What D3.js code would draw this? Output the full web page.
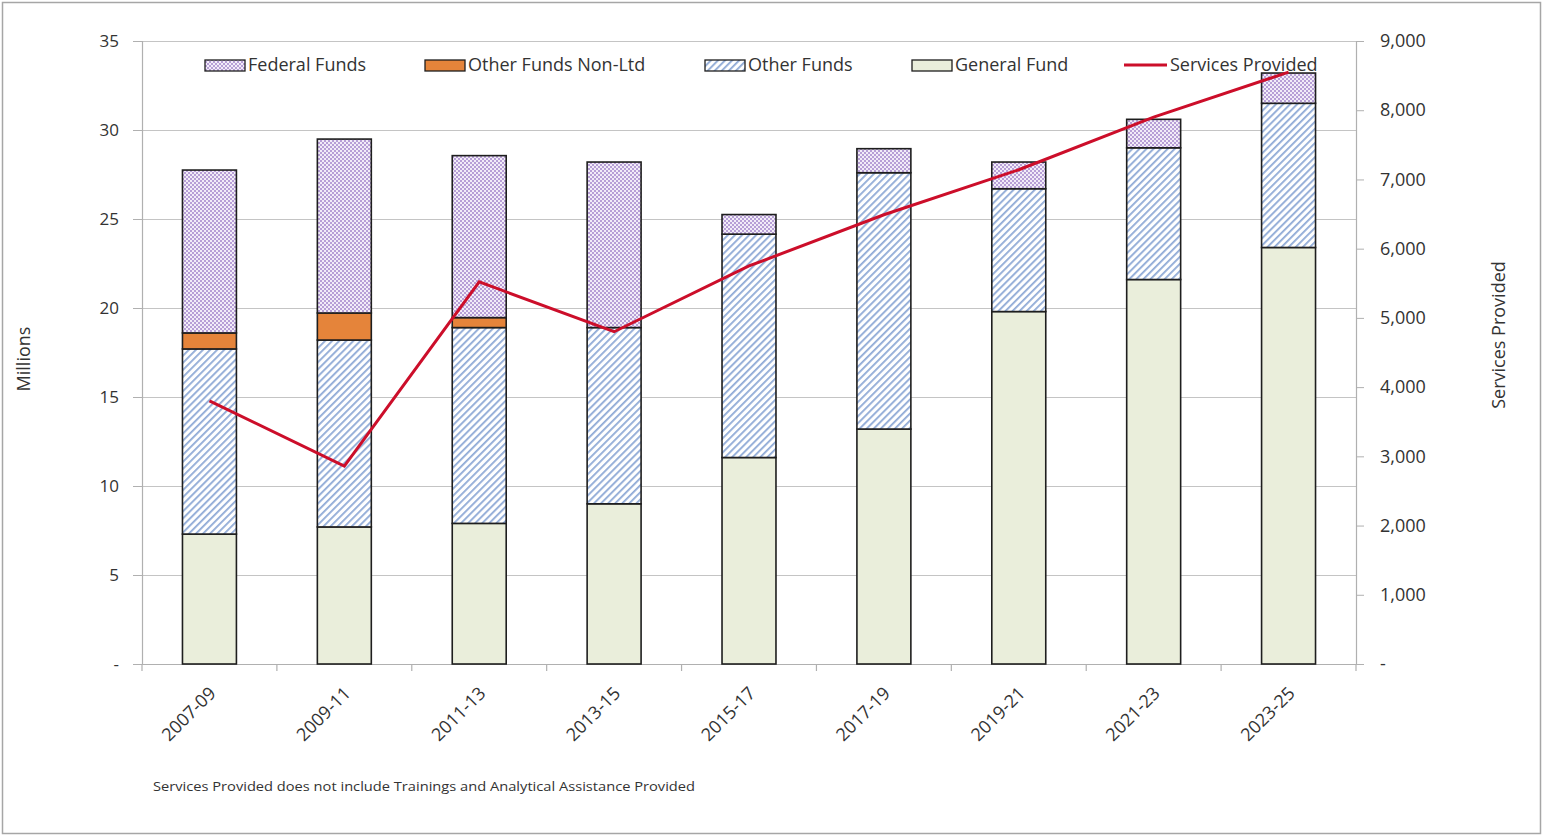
<!DOCTYPE html>
<html>
<head>
<meta charset="utf-8">
<script src="https://cdn.jsdelivr.net/npm/d3@7"></script>
<style>
  html, body { margin: 0; padding: 0; background: #fff; }
  svg { display: block; }
  text { font-family: "Open Sans", "Liberation Sans", sans-serif; fill: #333; }
</style>
</head>
<body>
<svg id="chart" width="1543" height="837"></svg>
<script>
// Biennium labels along the x axis
const categories = ["2007-09", "2009-11", "2011-13", "2013-15", "2015-17", "2017-19", "2019-21", "2021-23", "2023-25"];

// Funding by source, in millions of dollars (stacked bottom to top)
const generalFund      = [7.3, 7.7, 7.9, 9.0, 11.6, 13.2, 19.8, 21.6, 23.4];
const otherFunds       = [10.4, 10.5, 11.0, 9.9, 12.55, 14.4, 6.9, 7.4, 8.1];
const otherFundsNonLtd = [0.9, 1.52, 0.56, 0, 0, 0, 0, 0, 0];
const federalFunds     = [9.15, 9.77, 9.1, 9.3, 1.1, 1.35, 1.5, 1.6, 1.7];

// Services provided (right axis)
const servicesProvided = [3800, 2860, 5520, 4800, 5750, 6490, 7140, 7900, 8550];

// Axis ticks
const leftTicks  = [0, 5, 10, 15, 20, 25, 30, 35];
const rightTicks = [0, 1000, 2000, 3000, 4000, 5000, 6000, 7000, 8000, 9000];

const svg = d3.select("#chart");

// Outer frame
svg.append("rect")
  .attr("x", 2.5).attr("y", 2.5).attr("width", 1538).attr("height", 831)
  .attr("fill", "#fff").attr("stroke", "#a6a6a6").attr("stroke-width", 1.5);

// Fill patterns
const defs = svg.append("defs");

const dots = defs.append("pattern").attr("id", "pat-federal")
  .attr("patternUnits", "userSpaceOnUse").attr("width", 4).attr("height", 4);
dots.append("rect").attr("width", 4).attr("height", 4).attr("fill", "#f2ecf8");
dots.append("rect").attr("x", 0).attr("y", 0).attr("width", 2).attr("height", 2).attr("fill", "#b79fd6");
dots.append("rect").attr("x", 2).attr("y", 2).attr("width", 2).attr("height", 2).attr("fill", "#b79fd6");

const hatch = defs.append("pattern").attr("id", "pat-other")
  .attr("patternUnits", "userSpaceOnUse").attr("width", 5).attr("height", 5)
  .attr("patternTransform", "rotate(45)");
hatch.append("rect").attr("width", 5).attr("height", 5).attr("fill", "#ffffff");
hatch.append("rect").attr("x", 0).attr("y", 0).attr("width", 1.8).attr("height", 5).attr("fill", "#8faad6");

const seriesDefs = [
  { key: "General Fund",        values: generalFund,      fill: "#eaeedb" },
  { key: "Other Funds",         values: otherFunds,       fill: "url(#pat-other)" },
  { key: "Other Funds Non-Ltd", values: otherFundsNonLtd, fill: "#e5843a" },
  { key: "Federal Funds",       values: federalFunds,     fill: "url(#pat-federal)" }
];

const rows = categories.map((c, i) => {
  const r = { category: c };
  seriesDefs.forEach(s => { r[s.key] = s.values[i]; });
  return r;
});
const stacked = d3.stack().keys(seriesDefs.map(s => s.key))(rows);

// Plot area
const plot = { left: 142, right: 1356, top: 41, bottom: 664 };

const x = d3.scaleBand().domain(categories)
  .range([plot.left, plot.right]).paddingInner(0.6).paddingOuter(0.3);
const yL = d3.scaleLinear().domain([0, 35]).range([plot.bottom, plot.top]);
const yR = d3.scaleLinear().domain([0, 9000]).range([plot.bottom, plot.top]);

// Gridlines
svg.append("g").selectAll("line").data(leftTicks.filter(d => d > 0)).join("line")
  .attr("x1", plot.left).attr("x2", plot.right)
  .attr("y1", d => Math.round(yL(d)) + 0.5).attr("y2", d => Math.round(yL(d)) + 0.5)
  .attr("stroke", "#c4c4c4").attr("stroke-width", 1.2);

// Left axis
const fmtMillions = d => d === 0 ? "-" : d3.format("d")(d);
const gL = svg.append("g").attr("transform", `translate(${plot.left},0)`)
  .call(d3.axisLeft(yL).tickValues(leftTicks).tickFormat(fmtMillions).tickSize(9).tickPadding(14));
gL.select(".domain").attr("stroke", "#b0b0b0").attr("stroke-width", 1.2);
gL.selectAll(".tick line").attr("stroke", "#b0b0b0");
gL.selectAll(".tick text").style("font-size", "17px").attr("fill", "#333");

// Right axis
const fmtServices = d => d === 0 ? "-" : d3.format(",")(d);
const gR = svg.append("g").attr("transform", `translate(${plot.right},0)`)
  .call(d3.axisRight(yR).tickValues(rightTicks).tickFormat(fmtServices).tickSize(8).tickPadding(16));
gR.select(".domain").attr("stroke", "#b0b0b0").attr("stroke-width", 1.2);
gR.selectAll(".tick line").attr("stroke", "#b0b0b0");
gR.selectAll(".tick text").style("font-size", "18px").attr("fill", "#333");

// Bottom axis: line plus boundary ticks between categories
const step = x.step();
const boundaries = d3.range(categories.length + 1).map(i => plot.left + i * step);
svg.append("line")
  .attr("x1", plot.left).attr("x2", plot.right)
  .attr("y1", plot.bottom + 0.5).attr("y2", plot.bottom + 0.5)
  .attr("stroke", "#b0b0b0").attr("stroke-width", 1.2);
svg.append("g").selectAll("line").data(boundaries).join("line")
  .attr("x1", d => d).attr("x2", d => d)
  .attr("y1", plot.bottom).attr("y2", plot.bottom + 7)
  .attr("stroke", "#b0b0b0").attr("stroke-width", 1.2);

svg.append("g").selectAll("text").data(categories).join("text")
  .attr("transform", d => `translate(${x(d) + x.bandwidth() / 2 + 3},${plot.bottom + 26}) rotate(-45)`)
  .attr("text-anchor", "end")
  .attr("dy", "0.35em")
  .style("font-size", "18px")
  .text(d => d);

// Stacked bars
const colorOf = Object.fromEntries(seriesDefs.map(s => [s.key, s.fill]));
const barLayer = svg.append("g");
stacked.forEach(layer => {
  barLayer.append("g").selectAll("rect")
    .data(layer.filter(d => d[1] - d[0] > 0))
    .join("rect")
    .attr("x", d => x(d.data.category))
    .attr("width", x.bandwidth())
    .attr("y", d => yL(d[1]))
    .attr("height", d => yL(d[0]) - yL(d[1]))
    .attr("fill", colorOf[layer.key])
    .attr("stroke", "#1e1e1e")
    .attr("stroke-width", 1.6);
});

// Services provided line
const line = d3.line()
  .x((d, i) => x(categories[i]) + x.bandwidth() / 2)
  .y(d => yR(d));
svg.append("path").datum(servicesProvided)
  .attr("d", line)
  .attr("fill", "none")
  .attr("stroke", "#cc0e2a")
  .attr("stroke-width", 3)
  .attr("stroke-linejoin", "miter");

// Axis titles
svg.append("text")
  .attr("transform", "translate(30,359) rotate(-90)")
  .attr("text-anchor", "middle")
  .style("font-size", "18px")
  .text("Millions");
svg.append("text")
  .attr("transform", "translate(1505,335) rotate(-90)")
  .attr("text-anchor", "middle")
  .style("font-size", "18px")
  .text("Services Provided");

// Legend
const legendItems = [
  { label: "Federal Funds",       fill: "url(#pat-federal)", x: 205 },
  { label: "Other Funds Non-Ltd", fill: "#e5843a",           x: 425 },
  { label: "Other Funds",         fill: "url(#pat-other)",   x: 705 },
  { label: "General Fund",        fill: "#eaeedb",           x: 912 },
  { label: "Services Provided",   line: true,                x: 1124 }
];
const legend = svg.append("g");
legendItems.forEach(item => {
  const g = legend.append("g").attr("transform", `translate(${item.x},65)`);
  if (item.line) {
    g.append("line").attr("x1", 0).attr("x2", 43).attr("y1", 0).attr("y2", 0)
      .attr("stroke", "#cc0e2a").attr("stroke-width", 3);
  } else {
    g.append("rect").attr("x", 0).attr("y", -5).attr("width", 40).attr("height", 11)
      .attr("fill", item.fill).attr("stroke", "#1e1e1e").attr("stroke-width", 1.3);
  }
  g.append("text").attr("x", item.line ? 46 : 43).attr("y", 0).attr("dy", "0.35em")
    .style("font-size", "18px")
    .text(item.label);
});

// Footnote
svg.append("text")
  .attr("x", 153).attr("y", 791)
  .attr("textLength", 542)
  .attr("lengthAdjust", "spacingAndGlyphs")
  .style("font-size", "13px")
  .text("Services Provided does not include Trainings and Analytical Assistance Provided");
</script>
</body>
</html>
